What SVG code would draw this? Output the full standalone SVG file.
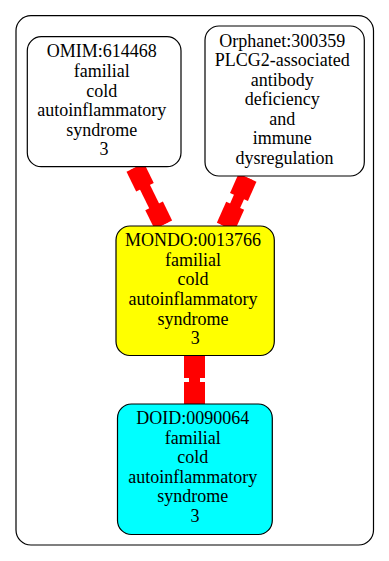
<svg xmlns="http://www.w3.org/2000/svg" width="389" height="561" viewBox="0 0 389 561">
  <style>
    .cluster { fill: #ffffff; stroke: #000000; stroke-width: 1.2; }
    .node rect { stroke: #000000; stroke-width: 1.2; }
    .node text { font-family: "Liberation Serif", "Times New Roman", serif; font-size: 18px; text-anchor: middle; fill: #000000; }
    .edge rect { fill: #ff0000; stroke: none; }
  </style>
  <rect width="389" height="561" fill="#ffffff"/>
  <rect class="cluster" x="16" y="15.7" width="357.5" height="529.3" rx="15" ry="15"/>

  <!-- connectors: thick red links with wide blocks at both ends -->
  <g id="edges">
    <g class="edge" id="edge-omim-mondo" transform="translate(135.3,167.5) rotate(63.9)">
      <rect x="0" y="-5.5" width="63.7" height="11"/>
      <rect x="0" y="-9.8" width="22" height="19.6"/>
      <rect x="42.7" y="-9.8" width="21" height="19.6"/>
    </g>
    <g class="edge" id="edge-orphanet-mondo" transform="translate(247.5,177.8) rotate(113.9)">
      <rect x="0" y="-5.5" width="53.5" height="11"/>
      <rect x="0" y="-9.8" width="21" height="19.6"/>
      <rect x="30.5" y="-9.8" width="23" height="19.6"/>
    </g>
    <g class="edge" id="edge-mondo-doid" transform="translate(194.5,355.5) rotate(90)">
      <rect x="0" y="-5.5" width="48.5" height="11"/>
      <rect x="0" y="-10.5" width="22.5" height="21"/>
      <rect x="26.5" y="-10.5" width="22" height="21"/>
    </g>
  </g>

  <g class="node" id="omim">
    <rect x="27.3" y="36.7" width="153.7" height="130" rx="14" ry="14" fill="#ffffff"/>
    <text>
      <tspan x="104" y="57.3">OMIM:614468</tspan>
      <tspan x="104" y="76.9">familial</tspan>
      <tspan x="104" y="96.5">cold</tspan>
      <tspan x="104" y="116.1">autoinflammatory</tspan>
      <tspan x="104" y="135.7">syndrome</tspan>
      <tspan x="104" y="155.3">3</tspan>
    </text>
  </g>

  <g class="node" id="orphanet">
    <rect x="205" y="26" width="159.3" height="150" rx="14" ry="14" fill="#ffffff"/>
    <text>
      <tspan x="284.6" y="46.7">Orphanet:300359</tspan>
      <tspan x="284.6" y="66.2">PLCG2-associated</tspan>
      <tspan x="284.6" y="85.7">antibody</tspan>
      <tspan x="284.6" y="105.2">deficiency</tspan>
      <tspan x="284.6" y="124.7">and</tspan>
      <tspan x="284.6" y="144.2">immune</tspan>
      <tspan x="284.6" y="163.7">dysregulation</tspan>
    </text>
  </g>

  <g class="node" id="mondo">
    <rect x="116" y="226" width="158.3" height="129.5" rx="14" ry="14" fill="#ffff00"/>
    <text>
      <tspan x="195.2" y="245.8">MONDO:0013766</tspan>
      <tspan x="195.2" y="265.5">familial</tspan>
      <tspan x="195.2" y="285.2">cold</tspan>
      <tspan x="195.2" y="304.9">autoinflammatory</tspan>
      <tspan x="195.2" y="324.6">syndrome</tspan>
      <tspan x="195.2" y="344.3">3</tspan>
    </text>
  </g>

  <g class="node" id="doid">
    <rect x="117.5" y="404" width="154.8" height="130.5" rx="14" ry="14" fill="#00ffff"/>
    <text>
      <tspan x="195" y="424">DOID:0090064</tspan>
      <tspan x="195" y="443.6">familial</tspan>
      <tspan x="195" y="463.2">cold</tspan>
      <tspan x="195" y="482.8">autoinflammatory</tspan>
      <tspan x="195" y="502.4">syndrome</tspan>
      <tspan x="195" y="522">3</tspan>
    </text>
  </g>
</svg>
